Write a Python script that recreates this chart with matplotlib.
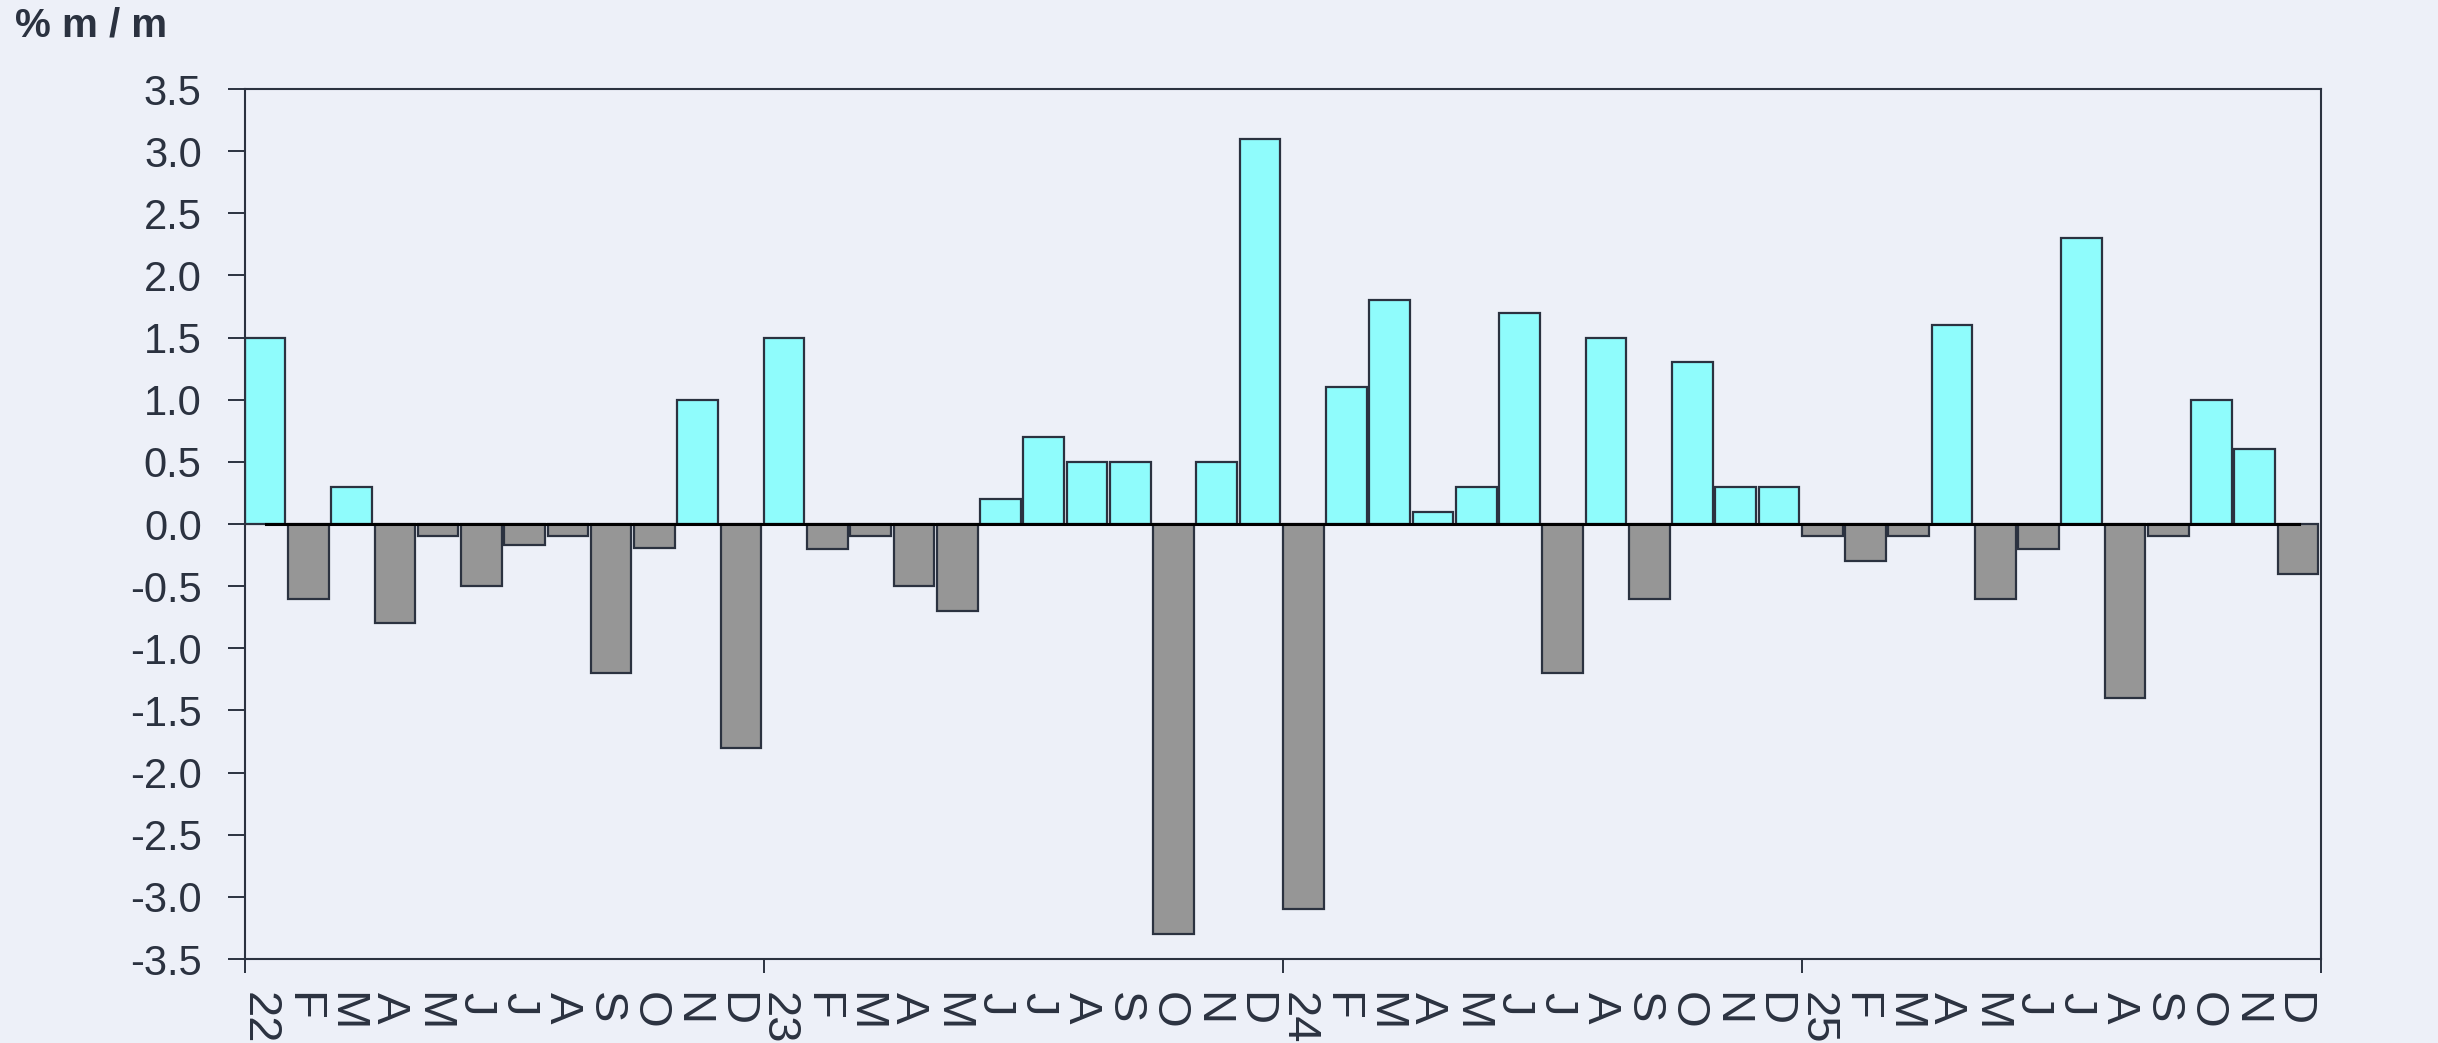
import numpy as np
import matplotlib
matplotlib.use("Agg")
import matplotlib.pyplot as plt

plt.rcParams['font.family'] = ['Liberation Sans', 'DejaVu Sans']
plt.rcParams['axes.unicode_minus'] = False

# etiquetas de meses (ene 2022 - dic 2025)
meses = ['22', 'F', 'M', 'A', 'M', 'J', 'J', 'A', 'S', 'O', 'N', 'D',
         '23', 'F', 'M', 'A', 'M', 'J', 'J', 'A', 'S', 'O', 'N', 'D',
         '24', 'F', 'M', 'A', 'M', 'J', 'J', 'A', 'S', 'O', 'N', 'D',
         '25', 'F', 'M', 'A', 'M', 'J', 'J', 'A', 'S', 'O', 'N', 'D']

# variación % m/m
var_2022 = [1.5, -0.6, 0.3, -0.8, -0.1, -0.5, -0.17, -0.1, -1.2, -0.19, 1.0, -1.8]
var_2023 = [1.5, -0.2, -0.1, -0.5, -0.7, 0.2, 0.7, 0.5, 0.5, -3.3, 0.5, 3.1]
var_2024 = [-3.1, 1.1, 1.8, 0.1, 0.3, 1.7, -1.2, 1.5, -0.6, 1.3, 0.3, 0.3]
var_2025 = [-0.1, -0.3, -0.1, 1.6, -0.6, -0.2, 2.3, -1.4, -0.1, 1.0, 0.6, -0.4]

valores = np.array(var_2022 + var_2023 + var_2024 + var_2025)
x = np.arange(len(valores))

fondo = '#edf0f8'
texto = '#2b3240'
cian = '#8ffcfc'
gris = '#969696'

fig = plt.figure(figsize=(24.38, 10.43), dpi=100, facecolor=fondo)
ax = fig.add_axes([0.1004, 0.0805, 0.8516, 0.8341])
ax.set_facecolor(fondo)

colores = [cian if v > 0 else gris for v in valores]
ax.bar(x, valores, width=0.94, align='edge', color=colores,
       edgecolor=texto, linewidth=1.6, zorder=2)

# linea del cero
ax.plot([0.5, len(valores) - 0.5], [0, 0], color='black', lw=2.2, zorder=3)

ax.set_xlim(0, len(valores))
ax.set_ylim(-3.5, 3.5)

yt = np.arange(-3.5, 3.51, 0.5)
ax.set_yticks(yt)
ax.set_yticklabels([f"{v:.1f}" for v in yt])
ax.tick_params(axis='y', direction='out', length=12, width=1.4, color=texto,
               labelsize=30, labelcolor=texto, pad=19)

ax.set_xticks([0, 12, 24, 36, 48])
ax.set_xticklabels([])
ax.tick_params(axis='x', which='major', direction='out', length=10, width=1.4,
               color=texto)
ax.set_xticks(x + 0.33, minor=True)
ax.set_xticklabels(meses, minor=True, rotation=270, ha='center', va='top')
ax.tick_params(axis='x', which='minor', length=0, labelsize=34,
               labelcolor=texto, pad=24)

for s in ax.spines.values():
    s.set_color(texto)
    s.set_linewidth(1.5)

fig.text(0.006, 0.965, '% m / m', fontsize=29, fontweight='bold',
         color=texto, ha='left', va='baseline')

fig.savefig('out.png', dpi=100, facecolor=fondo)
